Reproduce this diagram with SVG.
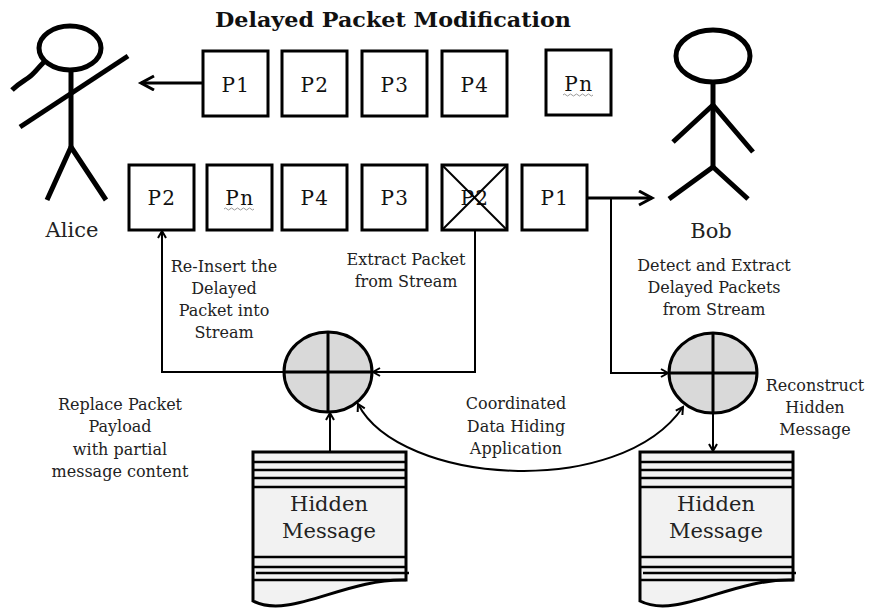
<svg xmlns="http://www.w3.org/2000/svg" width="872" height="610" viewBox="0 0 872 610">
  <style>
    .pkt { fill: #fff; stroke: #000; stroke-width: 3; }
    .pl { font-family: "DejaVu Serif", "Liberation Serif", serif; font-size: 20px; letter-spacing: 1.5px; fill: #111; text-anchor: middle; }
    .lbl { font-family: "DejaVu Serif", "Liberation Serif", serif; font-size: 16px; fill: #222; text-anchor: middle; }
    .name { font-family: "DejaVu Serif", "Liberation Serif", serif; font-size: 21px; fill: #222; text-anchor: middle; }
    .doct { font-family: "DejaVu Serif", "Liberation Serif", serif; font-size: 21px; fill: #222; text-anchor: middle; }
    .stick { fill: none; stroke: #000; stroke-width: 5; stroke-linecap: butt; stroke-linejoin: round; }
    .conn { fill: none; stroke: #000; stroke-width: 2; }
    .main { fill: none; stroke: #000; stroke-width: 3; }
    .proc { fill: #d9d9d9; stroke: #000; stroke-width: 3; }
    .cross { stroke: #000; stroke-width: 3; }
    .doc { fill: #f2f2f2; stroke: #000; stroke-width: 3; }
    .rule { stroke: #000; stroke-width: 2.5; }
    .squig { fill: none; stroke: #999; stroke-width: 1; }
  </style>
  <defs>
    <marker id="bigArrow" markerUnits="userSpaceOnUse" markerWidth="20" markerHeight="20" refX="14" refY="8" orient="auto">
      <path d="M1,1 L14,8 L1,15" fill="none" stroke="#000" stroke-width="3"/>
    </marker>
    <marker id="arrow" markerUnits="userSpaceOnUse" markerWidth="12" markerHeight="12" refX="8" refY="5" orient="auto-start-reverse">
      <path d="M1,1 L8,5 L1,9" fill="none" stroke="#000" stroke-width="2"/>
    </marker>
  </defs>

  <!-- title -->
  <text x="393" y="27" font-family="DejaVu Serif, Liberation Serif, serif" font-size="20" font-weight="bold" text-anchor="middle" textLength="356" lengthAdjust="spacingAndGlyphs" fill="#111">Delayed Packet Modification</text>

  <!-- Alice -->
  <g id="alice">
    <ellipse class="stick" cx="70" cy="48" rx="31" ry="22" stroke-width="4.5"/>
    <path class="stick" d="M44,62 C36,70 34,74 28,78 C22,82 18,84 12,90"/>
    <line class="stick" x1="71" y1="70" x2="71" y2="147"/>
    <line class="stick" x1="20" y1="127" x2="128" y2="56" stroke-width="6"/>
    <path class="stick" d="M47,200 L71,147 L106,200"/>
    <text class="name" x="72" y="237">Alice</text>
  </g>

  <!-- Bob -->
  <g id="bob">
    <ellipse class="stick" cx="713" cy="56" rx="37" ry="26"/>
    <line class="stick" x1="713" y1="82" x2="713" y2="168"/>
    <path class="stick" d="M673,142 L713,105 L753,152"/>
    <path class="stick" d="M669,199 L713,167 L748,199"/>
    <text class="name" x="711" y="238">Bob</text>
  </g>

  <!-- outgoing stream (top row) -->
  <g id="top-p1"><rect class="pkt" x="203" y="51" width="65" height="65"/><text class="pl" x="236" y="92">P1</text></g>
  <g id="top-p2"><rect class="pkt" x="282" y="51" width="65" height="65"/><text class="pl" x="315" y="92">P2</text></g>
  <g id="top-p3"><rect class="pkt" x="362" y="51" width="65" height="65"/><text class="pl" x="395" y="92">P3</text></g>
  <g id="top-p4"><rect class="pkt" x="442" y="51" width="65" height="65"/><text class="pl" x="475" y="92">P4</text></g>
  <g id="top-pn"><rect class="pkt" x="546" y="50" width="65" height="65"/><text class="pl" x="579" y="91">Pn</text>
    <path class="squig" d="M563,95 q1.5,-2 3,0 t3,0 t3,0 t3,0 t3,0 t3,0 t3,0 t3,0 t3,0 t3,0"/></g>

  <!-- modified stream (bottom row) -->
  <g id="bot-p2"><rect class="pkt" x="129" y="165" width="65" height="65"/><text class="pl" x="162" y="205">P2</text></g>
  <g id="bot-pn"><rect class="pkt" x="207" y="165" width="65" height="65"/><text class="pl" x="240" y="205">Pn</text>
    <path class="squig" d="M224,209 q1.5,-2 3,0 t3,0 t3,0 t3,0 t3,0 t3,0 t3,0 t3,0 t3,0 t3,0"/></g>
  <g id="bot-p4"><rect class="pkt" x="282" y="165" width="65" height="65"/><text class="pl" x="315" y="205">P4</text></g>
  <g id="bot-p3"><rect class="pkt" x="362" y="165" width="65" height="65"/><text class="pl" x="395" y="205">P3</text></g>
  <g id="bot-p2x"><rect class="pkt" x="442" y="165" width="65" height="65"/><text class="pl" x="475" y="205">P2</text>
    <line x1="443" y1="166" x2="506" y2="229" stroke="#000" stroke-width="2"/>
    <line x1="506" y1="166" x2="443" y2="229" stroke="#000" stroke-width="2"/></g>
  <g id="bot-p1"><rect class="pkt" x="522" y="165" width="65" height="65"/><text class="pl" x="555" y="205">P1</text></g>

  <!-- embedding process (Alice side) -->
  <g id="embed">
    <ellipse class="proc" cx="328" cy="372" rx="44" ry="40"/>
    <line class="cross" x1="328" y1="332" x2="328" y2="412"/>
    <line class="cross" x1="284" y1="372" x2="372" y2="372"/>
  </g>

  <!-- extraction process (Bob side) -->
  <g id="extract">
    <ellipse class="proc" cx="713" cy="373" rx="44" ry="40"/>
    <line class="cross" x1="713" y1="333" x2="713" y2="413"/>
    <line class="cross" x1="669" y1="373" x2="757" y2="373"/>
  </g>

  <!-- hidden message documents -->
  <g id="doc-left">
    <path class="doc" d="M253,452 H406 V580 C345,578 290,620 253,601 Z"/>
    <line class="rule" x1="253" y1="462" x2="406" y2="462"/>
    <line class="rule" x1="253" y1="470" x2="406" y2="470"/>
    <line class="rule" x1="253" y1="478" x2="406" y2="478"/>
    <line class="rule" x1="253" y1="487" x2="406" y2="487" stroke-width="3"/>
    <line class="rule" x1="253" y1="557" x2="406" y2="557" stroke-width="3"/>
    <line class="rule" x1="253" y1="567" x2="406" y2="567"/>
    <line class="rule" x1="256" y1="573" x2="409" y2="573"/>
    <line class="rule" x1="253" y1="580" x2="406" y2="580"/>
    <text class="doct" x="329" y="511">Hidden</text>
    <text class="doct" x="329" y="538">Message</text>
  </g>
  <g id="doc-right">
    <path class="doc" d="M640,452 H793 V580 C732,578 677,620 640,601 Z"/>
    <line class="rule" x1="640" y1="462" x2="793" y2="462"/>
    <line class="rule" x1="640" y1="470" x2="793" y2="470"/>
    <line class="rule" x1="640" y1="478" x2="793" y2="478"/>
    <line class="rule" x1="640" y1="487" x2="793" y2="487" stroke-width="3"/>
    <line class="rule" x1="640" y1="557" x2="793" y2="557" stroke-width="3"/>
    <line class="rule" x1="640" y1="567" x2="793" y2="567"/>
    <line class="rule" x1="643" y1="573" x2="796" y2="573"/>
    <line class="rule" x1="640" y1="580" x2="793" y2="580"/>
    <text class="doct" x="716" y="511">Hidden</text>
    <text class="doct" x="716" y="538">Message</text>
  </g>

  <!-- connectors -->
  <g id="connectors">
    <line class="main" x1="203" y1="83" x2="141" y2="83" marker-end="url(#bigArrow)"/>
    <line class="main" x1="587" y1="198" x2="652" y2="198" marker-end="url(#bigArrow)"/>
    <polyline class="conn" points="611,198 611,373 668,373" marker-end="url(#arrow)"/>
    <polyline class="conn" points="475,230 475,372 373,372" marker-end="url(#arrow)"/>
    <polyline class="conn" points="284,372 162,372 162,231" marker-end="url(#arrow)"/>
    <line class="conn" x1="330" y1="452" x2="330" y2="413" marker-end="url(#arrow)"/>
    <line class="conn" x1="713" y1="413" x2="713" y2="451" marker-end="url(#arrow)"/>
    <path class="conn" d="M358,404 C400,485 620,500 683,407" marker-start="url(#arrow)" marker-end="url(#arrow)"/>
  </g>

  <!-- annotations -->
  <g id="labels">
    <text class="lbl" x="224" y="272">Re-Insert the</text>
    <text class="lbl" x="224" y="294">Delayed</text>
    <text class="lbl" x="224" y="316">Packet into</text>
    <text class="lbl" x="224" y="338">Stream</text>

    <text class="lbl" x="406" y="265">Extract Packet</text>
    <text class="lbl" x="406" y="287">from Stream</text>

    <text class="lbl" x="714" y="271">Detect and Extract</text>
    <text class="lbl" x="714" y="293">Delayed Packets</text>
    <text class="lbl" x="714" y="315">from Stream</text>

    <text class="lbl" x="516" y="409">Coordinated</text>
    <text class="lbl" x="516" y="432">Data Hiding</text>
    <text class="lbl" x="516" y="454">Application</text>

    <text class="lbl" x="815" y="391">Reconstruct</text>
    <text class="lbl" x="815" y="413">Hidden</text>
    <text class="lbl" x="815" y="435">Message</text>

    <text class="lbl" x="120" y="410">Replace Packet</text>
    <text class="lbl" x="120" y="432">Payload</text>
    <text class="lbl" x="120" y="455">with partial</text>
    <text class="lbl" x="120" y="477">message content</text>
  </g>
</svg>
